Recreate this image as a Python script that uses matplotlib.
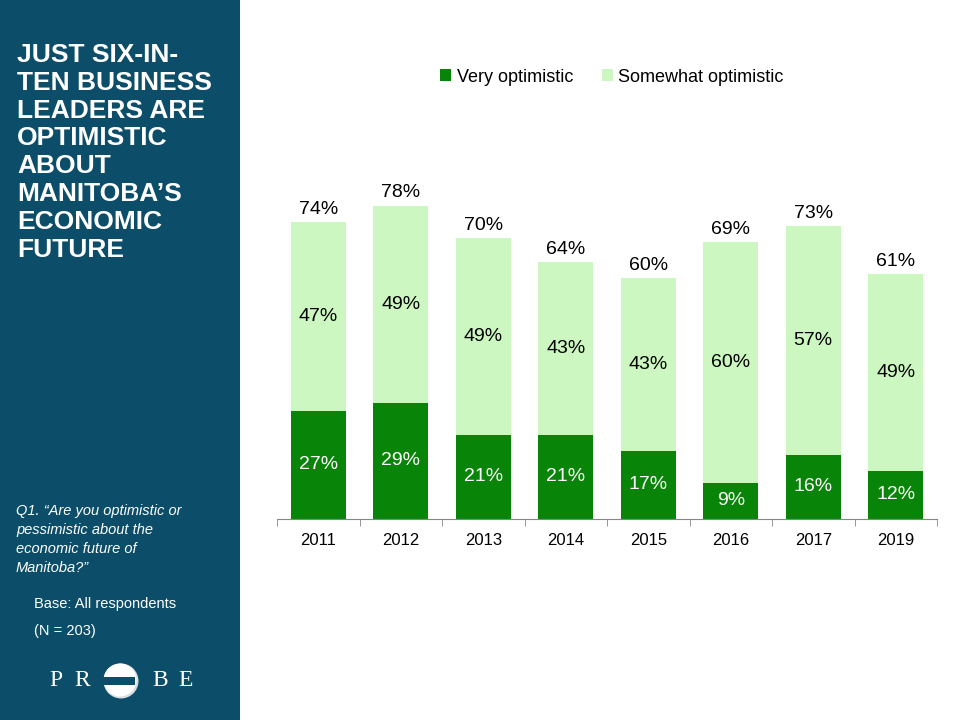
import matplotlib.pyplot as plt
import numpy as np
from matplotlib.patches import Rectangle, Circle

years = ['2011', '2012', '2013', '2014', '2015', '2016', '2017', '2019']
very = [27, 29, 21, 21, 17, 9, 16, 12]
somewhat = [47, 49, 49, 43, 43, 60, 57, 49]
totals = [74, 78, 70, 64, 60, 69, 73, 61]

DARK = '#088508'
LIGHT = '#cdf7c0'
SIDE = '#0c4e69'

plt.rcParams['font.family'] = ['Liberation Sans', 'DejaVu Sans']

W, H = 960, 720
fig = plt.figure(figsize=(9.6, 7.2), dpi=100)


def fx(x):
    return x / W


def fy(y):
    return 1 - y / H


# sidebar
fig.patches.append(Rectangle((0, 0), fx(240), 1, transform=fig.transFigure,
                             facecolor=SIDE, edgecolor='none', zorder=-5))

title = "JUST SIX-IN-\nTEN BUSINESS\nLEADERS ARE\nOPTIMISTIC\nABOUT\nMANITOBA\u2019S\nECONOMIC\nFUTURE"
fig.text(fx(17), fy(43), title, color='white', fontsize=19, fontweight='bold',
         va='top', ha='left', linespacing=1.2)

question = "Q1. \u201cAre you optimistic or\npessimistic about the\neconomic future of\nManitoba?\u201d"
fig.text(fx(16), fy(504), question, color='white', fontsize=10.5, style='italic',
         va='top', ha='left', linespacing=1.45)
fig.text(fx(34), fy(604), "Base: All respondents", color='white', fontsize=10.5, va='center')
fig.text(fx(34), fy(631), "(N = 203)", color='white', fontsize=10.5, va='center')

# logo
for ch, x in [('P', 56), ('R', 82), ('B', 160), ('E', 186)]:
    fig.text(fx(x), fy(681), ch, color='white', fontsize=17, family='Liberation Serif',
             ha='center', va='center')
lax = fig.add_axes([fx(100), fy(702), fx(42), 42 / H])
lax.set_xlim(-21, 21)
lax.set_ylim(-21, 21)
lax.set_aspect('equal')
lax.axis('off')
lax.add_patch(Circle((0, 0), 17.5, facecolor='#d9dde0', edgecolor='none'))
lax.add_patch(Circle((-1, 1), 16.5, facecolor='white', edgecolor='none'))
lax.add_patch(Rectangle((-19, -4), 33, 8, facecolor=SIDE, edgecolor='none'))

# chart
ax = fig.add_axes([fx(277), fy(519), fx(660), 401.5 / H])
x = np.arange(len(years))
ax.bar(x, very, width=0.667, color=DARK, label='Very optimistic')
ax.bar(x, somewhat, width=0.667, bottom=very, color=LIGHT, label='Somewhat optimistic')
ax.set_xlim(-0.5, len(years) - 0.5)
ax.set_ylim(0, 100)

for i in range(len(years)):
    ax.text(x[i], very[i] / 2, f'{very[i]}%', color='white', fontsize=14,
            ha='center', va='center')
    ax.text(x[i], very[i] + somewhat[i] / 2, f'{somewhat[i]}%', color='black',
            fontsize=14, ha='center', va='center')
    ax.annotate(f'{totals[i]}%', (x[i], totals[i]), xytext=(0, 6),
                textcoords='offset points', ha='center', va='baseline',
                fontsize=14, color='black')

for s in ['top', 'right', 'left']:
    ax.spines[s].set_visible(False)
ax.spines['bottom'].set_color('#868686')
ax.set_yticks([])
ax.set_xticks(x)
ax.set_xticklabels(years, fontsize=12)
ax.tick_params(axis='x', which='major', length=0, pad=10)
ax.set_xticks(np.arange(-0.5, len(years), 1), minor=True)
ax.tick_params(axis='x', which='minor', length=5, color='#868686')

fig.legend(loc='center', bbox_to_anchor=(fx(612), fy(77)), ncol=2, frameon=False,
           fontsize=13, handlelength=0.6, handleheight=0.6, handletextpad=0.3,
           columnspacing=1.6)

fig.savefig('out.png', dpi=100, facecolor='white')
